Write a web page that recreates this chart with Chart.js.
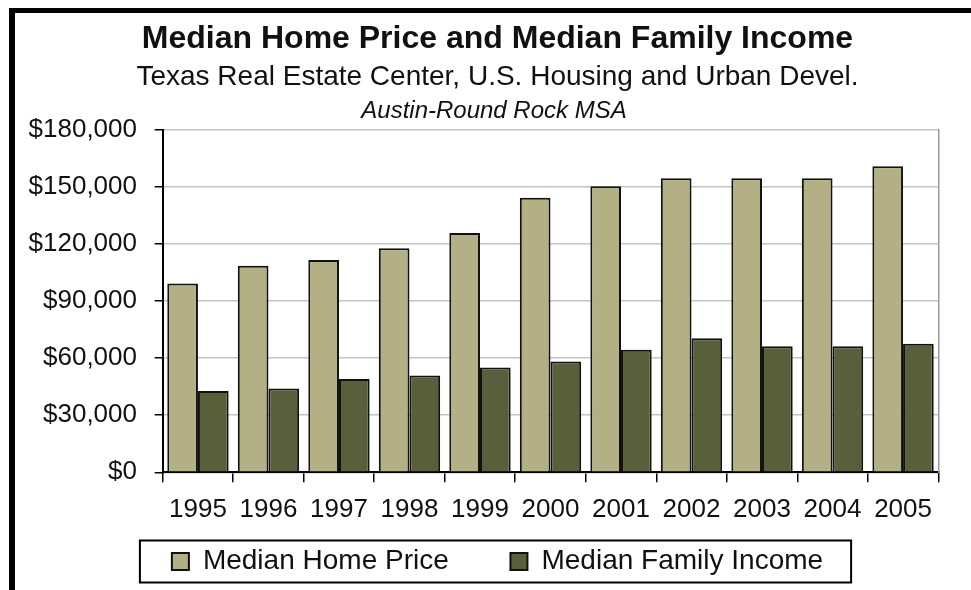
<!DOCTYPE html>
<html>
<head>
<meta charset="utf-8">
<script src="https://cdn.jsdelivr.net/npm/chart.js@4"></script>
<style>
  html, body { margin: 0; padding: 0; background: #fff; }
  #frame {
    position: absolute; left: 9px; top: 8px; width: 1100px; height: 700px;
    border-left: 6px solid #000; border-top: 5px solid #000;
  }
  #wrap { position: absolute; left: 0; top: 0; width: 971px; height: 590px; }
</style>
</head>
<body>
<div id="frame"></div>
<div id="wrap"><canvas id="chart"></canvas></div>
<script>
// ---- DATA ----
const years = ['1995', '1996', '1997', '1998', '1999', '2000', '2001', '2002', '2003', '2004', '2005'];
const homePrice = [99200, 108500, 111500, 117700, 125700, 144200, 150300, 154400, 154400, 154400, 160800];
const familyIncome = [42700, 44000, 49000, 50900, 55100, 58200, 64400, 70400, 66200, 66200, 67500];
const yTicks = [0, 30000, 60000, 90000, 120000, 150000, 180000];

const FONT = "'Liberation Sans', Arial, sans-serif";
const INK = '#111';

// italic third heading line, sits between subtitle and plot
const msaLine = {
  id: 'msaLine',
  afterDraw(chart) {
    const ctx = chart.ctx;
    ctx.save();
    ctx.font = 'italic 24px ' + FONT;
    ctx.fillStyle = INK;
    ctx.textAlign = 'center';
    ctx.textBaseline = 'middle';
    ctx.fillText('Austin-Round Rock MSA', 494, 111);
    ctx.restore();
  },
};

// boxed legend, like the spreadsheet one
const legendBox = {
  id: 'legendBox',
  afterDraw(chart) {
    const hb = chart.legend.legendHitBoxes;
    if (!hb || !hb.length) return;
    const last = hb[hb.length - 1];
    const cy = hb[0].top + hb[0].height / 2;
    const x0 = hb[0].left - 32;
    const x1 = last.left + last.width + 28;
    const ctx = chart.ctx;
    ctx.save();
    ctx.strokeStyle = '#000';
    ctx.lineWidth = 2;
    ctx.strokeRect(x0, cy - 21, x1 - x0, 42);
    ctx.restore();
  },
};

new Chart(document.getElementById('chart').getContext('2d'), {
  type: 'bar',
  data: {
    labels: years,
    datasets: [
      { label: 'Median Home Price', data: homePrice, backgroundColor: '#b4b085', borderColor: '#111', borderWidth: 2 },
      { label: 'Median Family Income', data: familyIncome, backgroundColor: '#585f3a', borderColor: '#111', borderWidth: 2 },
    ],
  },
  options: {
    responsive: true,
    maintainAspectRatio: false,
    animation: false,
    layout: { padding: { left: 24, right: 0, top: 0, bottom: 4.5 } },
    datasets: { bar: { categoryPercentage: 0.87, barPercentage: 1.0 } },
    plugins: {
      title: {
        display: true,
        text: 'Median Home Price and Median Family Income',
        color: INK,
        font: { family: FONT, size: 32, weight: 'bold', lineHeight: 1.2 },
        padding: { top: 20, bottom: 2 },
      },
      subtitle: {
        display: true,
        text: 'Texas Real Estate Center, U.S. Housing and Urban Devel.',
        color: INK,
        font: { family: FONT, size: 28, lineHeight: 1.2 },
        padding: { top: 0, bottom: 35.6 },
      },
      legend: {
        position: 'bottom',
        labels: {
          color: INK,
          font: { family: FONT, size: 28 },
          boxWidth: 17,
          boxHeight: 17,
          padding: 15,
          generateLabels(chart) {
            const items = Chart.defaults.plugins.legend.labels.generateLabels(chart);
            items[0].text += '\u00a0'.repeat(6);
            return items;
          },
        },
      },
      tooltip: { enabled: false },
    },
    scales: {
      x: {
        grid: { display: true, drawOnChartArea: false, drawTicks: true, tickLength: 10, tickColor: '#000', lineWidth: 1.5 },
        border: { color: '#000', width: 2 },
        ticks: { color: INK, font: { family: FONT, size: 26 }, padding: 12, maxRotation: 0 },
        afterFit: s => { s.height = 60.2; },
      },
      y: {
        min: 0,
        max: 180000,
        afterBuildTicks: s => { s.ticks = yTicks.map(v => ({ value: v })); },
        grid: { color: '#c4c4c4', lineWidth: 1.5, drawTicks: true, tickLength: 8, tickColor: '#000' },
        border: { color: '#000', width: 2 },
        ticks: {
          color: INK,
          font: { family: FONT, size: 26 },
          padding: 17.7,
          callback: v => '$' + v.toLocaleString('en-US'),
        },
        afterFit: s => { s.width = 138.7; },
      },
      y2: {
        position: 'right',
        min: 0,
        max: 180000,
        grid: { display: false },
        border: { color: '#9a9a9a', width: 1.5 },
        ticks: { display: false },
        afterFit: s => { s.width = 32.7; },
      },
    },
  },
  plugins: [msaLine, legendBox],
});
</script>
</body>
</html>
